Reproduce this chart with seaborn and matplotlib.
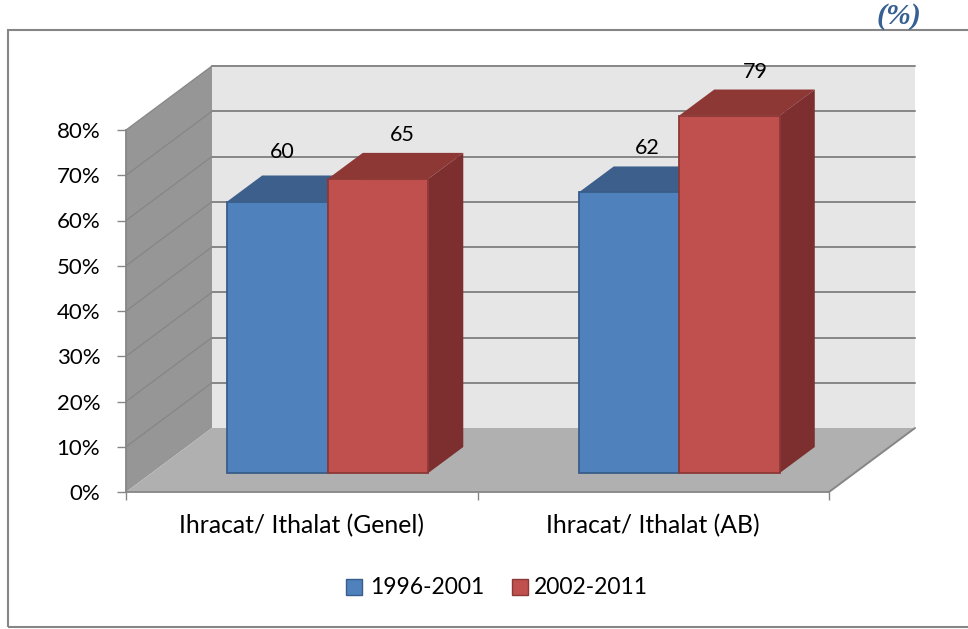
import matplotlib
matplotlib.use('Agg')
import matplotlib.pyplot as plt
from matplotlib.patches import Polygon, Rectangle
from matplotlib.transforms import Affine2D
from matplotlib.ticker import FuncFormatter
import seaborn as sns
import pandas as pd

categories = ['Ihracat/ Ithalat (Genel)', 'Ihracat/ Ithalat (AB)']
periods = ['1996-2001', '2002-2011']
values_1996 = [60, 62]
values_2002 = [65, 79]
y_ticks = [0, 10, 20, 30, 40, 50, 60, 70, 80]

W, H = 968, 629
GREY = '#868686'

sns.set_theme(style='white')
plt.rcParams['font.family'] = ['Lato', 'DejaVu Sans']

df = pd.DataFrame({
    'category': categories * 2,
    'period': [periods[0]] * 2 + [periods[1]] * 2,
    'value': values_1996 + values_2002,
})

fig = plt.figure(figsize=(W / 100, H / 100), dpi=100)
ax = fig.add_axes([126 / W, 1 - 492 / H, 703 / W, 362 / H])
ax.patch.set_visible(False)

sns.barplot(data=df, x='category', y='value', hue='period', order=categories, hue_order=periods,
            palette=['#4f81bd', '#c0504d'], saturation=1, width=0.572, gap=0, legend=False, ax=ax)
ax.set_xlim(-0.5, 1.5)
ax.set_ylim(0, 80)

# pixel -> data units, depth of the fake 3d
px_x = 2 / 703
px_y = 80 / 362
wall_dx, wall_dy = 86 * px_x, 64 * px_y
bar_ox, bar_oy = 26 * px_x, 19 * px_y
bar_dx, bar_dy = 35 * px_x, 26 * px_y
x0, x1 = -0.5, 1.5


def face(pts, color, z, edge='none', lw=0):
    ax.add_patch(Polygon(pts, closed=True, facecolor=color, edgecolor=edge, linewidth=lw,
                         zorder=z, clip_on=False))


# walls and floor
face([(x0 + wall_dx, wall_dy), (x1 + wall_dx, wall_dy), (x1 + wall_dx, 80 + wall_dy), (x0 + wall_dx, 80 + wall_dy)],
     '#e6e6e6', 0.1)
face([(x0, 0), (x0 + wall_dx, wall_dy), (x0 + wall_dx, 80 + wall_dy), (x0, 80)], '#969696', 0.2)
face([(x0, 0), (x1, 0), (x1 + wall_dx, wall_dy), (x0 + wall_dx, wall_dy)], '#b0b0b0', 0.2)

for t in y_ticks[1:]:
    ax.plot([x0 + wall_dx, x1 + wall_dx], [t + wall_dy] * 2, color=GREY, lw=1.4, zorder=0.5, clip_on=False)
    ax.plot([x0, x0 + wall_dx], [t, t + wall_dy], color='#868686', lw=0.9, zorder=0.5, clip_on=False)
ax.plot([x1, x1 + wall_dx], [0, wall_dy], color=GREY, lw=1.4, zorder=0.6, clip_on=False)

# boxes
edges = ['#385d8a', '#8c3836']
tops = ['#3c5f8c', '#8e3836']
sides = ['#2f4b6e', '#7c2f2e']
shift = Affine2D().translate(bar_ox, bar_oy) + ax.transData
# label offsets in pixels from the top middle of each front face
nudges = [[(5, 49), (24, 44)], [(18, 44), (26, 44)]]

for s, cont in enumerate(ax.containers):
    for c, bar in enumerate(cont):
        bar.set_transform(shift)
        bar.set_clip_on(False)
        bar.set_edgecolor(edges[s])
        bar.set_linewidth(1.3)
        bar.set_zorder(2 + s + 0.5)
        l = bar.get_x() + bar_ox
        r = l + bar.get_width()
        v = bar.get_height() + bar_oy
        b = bar_oy
        face([(l, v), (r, v), (r + bar_dx, v + bar_dy), (l + bar_dx, v + bar_dy)], tops[s], 2 + s)
        face([(r, b), (r + bar_dx, b + bar_dy), (r + bar_dx, v + bar_dy), (r, v)], sides[s], 2 + s)
        nx, ny = nudges[c][s]
        ax.annotate(f'{bar.get_height():.0f}', xy=((l + r) / 2, v), xytext=(nx * 0.72, ny * 0.72),
                    textcoords='offset points', ha='center', va='center', fontsize=15.5,
                    color='black', zorder=6, annotation_clip=False)

# axes
ax.set_xlabel('')
ax.set_ylabel('')
ax.set_yticks(y_ticks)
ax.yaxis.set_major_formatter(FuncFormatter(lambda v, _: f'{v:.0f}%'))
ax.set_xticks([-0.5, 0.5, 1.5])
ax.set_xticklabels([])
ax.set_xticks([0, 1], labels=categories, minor=True)
ax.tick_params(axis='y', which='major', left=True, length=6.5, width=1, color=GREY, labelsize=16, pad=12,
               labelcolor='black')
ax.tick_params(axis='x', which='major', bottom=True, length=6, width=1, color=GREY)
ax.tick_params(axis='x', which='minor', bottom=False, labelsize=17.8, pad=12, labelcolor='black')
sns.despine(ax=ax)
for side in ['left', 'bottom']:
    ax.spines[side].set_color(GREY)
    ax.spines[side].set_linewidth(1.3)
    ax.spines[side].set_zorder(1)

# frame, legend and the unit note
fig.add_artist(Rectangle((7.5 / W, 1 - 627 / H), 965 / W, 597.5 / H, transform=fig.transFigure,
                         fill=False, edgecolor=GREY, linewidth=1.5))
for name, fc, ec, xs, xt in zip(periods, ['#4f81bd', '#c0504d'], edges, [346, 512], [370, 534]):
    fig.add_artist(Rectangle((xs / W, 1 - 595 / H), 16 / W, 16 / H, transform=fig.transFigure,
                             facecolor=fc, edgecolor=ec, linewidth=1))
    fig.text(xt / W, 1 - 587 / H, name, ha='left', va='center', fontsize=16.5, color='black')
fig.text(898.5 / W, 1 - 16 / H, '(%)', ha='center', va='center', fontsize=21.5, color='#366092',
         family='Liberation Serif', style='italic', weight='bold')

fig.savefig('out.png', dpi=100)
